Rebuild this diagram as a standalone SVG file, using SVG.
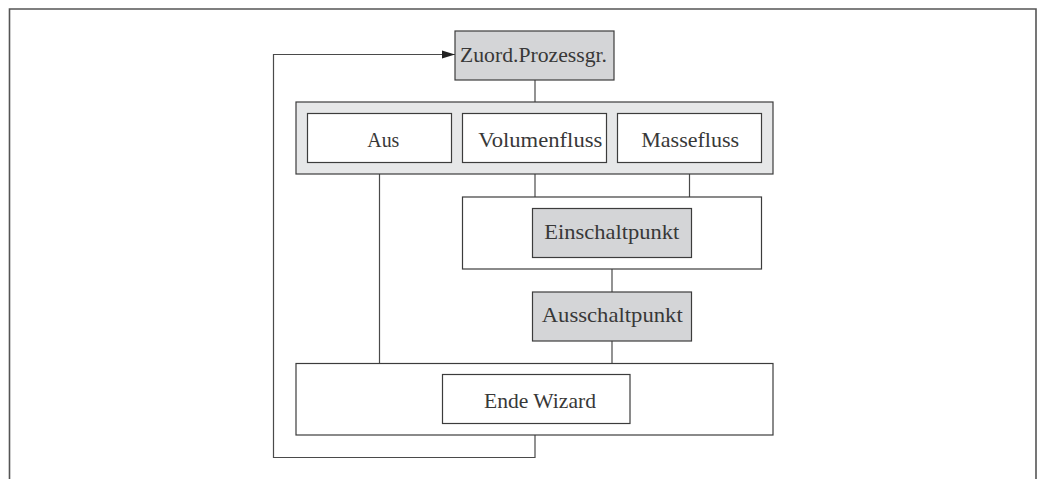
<svg xmlns="http://www.w3.org/2000/svg" width="1038" height="479" viewBox="0 0 1038 479">
<style>
.box{fill:#ffffff;stroke:#3c3c3c;stroke-width:1.2}
.gray{fill:#d4d5d7;stroke:#3c3c3c;stroke-width:1.2}
.grp{fill:#e6e7e8;stroke:#3c3c3c;stroke-width:1.2}
.lbl{font-family:"Liberation Serif","DejaVu Serif",serif;font-size:21px;fill:#383838;text-anchor:middle}
.con{fill:none;stroke:#4a4a4a;stroke-width:1.2}
</style>
<defs>
<marker id="arr" markerWidth="14" markerHeight="10" refX="13" refY="4.5" orient="auto" markerUnits="userSpaceOnUse">
<path d="M0,0.5 L13,4.5 L0,8.5 Z" fill="#222"/>
</marker>
</defs>
<rect width="1038" height="479" fill="#ffffff"/>
<path d="M9.5,479 V9 H1036 V479" fill="none" stroke="#555" stroke-width="1.6"/>
<g id="connectors">
<path class="con" d="M535,80 V102"/>
<path class="con" d="M379.5,174 V363.5"/>
<path class="con" d="M535,174 V197"/>
<path class="con" d="M689.5,174 V197"/>
<path class="con" d="M612,269 V292"/>
<path class="con" d="M612,341 V363.5"/>
<path class="con" d="M535,435 V457.5 H273.5 V54.5 H455" marker-end="url(#arr)"/>
</g>
<g id="zuord">
<rect class="gray" x="455" y="31" width="159" height="49"/>
<text class="lbl" x="533.5" y="62" textLength="147" lengthAdjust="spacingAndGlyphs">Zuord.Prozessgr.</text>
</g>
<g id="auswahl">
<rect class="grp" x="296" y="102" width="477" height="72"/>
</g>
<g id="aus">
<rect class="box" x="307.5" y="113.5" width="144" height="49"/>
<text class="lbl" x="383.3" y="147" textLength="32" lengthAdjust="spacingAndGlyphs">Aus</text>
</g>
<g id="volumenfluss">
<rect class="box" x="462.5" y="113.5" width="144" height="49"/>
<text class="lbl" x="540.3" y="147" textLength="124" lengthAdjust="spacingAndGlyphs">Volumenfluss</text>
</g>
<g id="massefluss">
<rect class="box" x="617.5" y="113.5" width="144" height="49"/>
<text class="lbl" x="690.2" y="147" textLength="98" lengthAdjust="spacingAndGlyphs">Massefluss</text>
</g>
<g id="einschalt-gruppe">
<rect class="box" x="462.5" y="197" width="299" height="72"/>
</g>
<g id="einschaltpunkt">
<rect class="gray" x="532.5" y="208.5" width="159" height="49"/>
<text class="lbl" x="611.7" y="238.5" textLength="135" lengthAdjust="spacingAndGlyphs">Einschaltpunkt</text>
</g>
<g id="ausschaltpunkt">
<rect class="gray" x="532.5" y="292" width="159" height="49"/>
<text class="lbl" x="612.2" y="322" textLength="141" lengthAdjust="spacingAndGlyphs">Ausschaltpunkt</text>
</g>
<g id="ende-gruppe">
<rect class="box" x="296" y="363.5" width="477" height="71.5"/>
</g>
<g id="ende-wizard">
<rect class="box" x="442.5" y="374.5" width="187.5" height="49"/>
<text class="lbl" x="540" y="407.5" textLength="112" lengthAdjust="spacingAndGlyphs">Ende Wizard</text>
</g>
</svg>
